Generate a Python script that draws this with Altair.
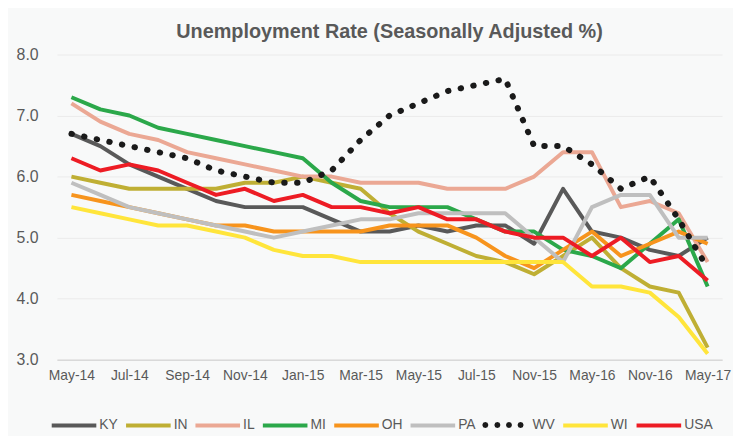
import math
import altair as alt
import pandas as pd

# Category axis (23 points, every other one labelled)
months = ["May-14", "Jun-14", "Jul-14", "Aug-14", "Sep-14", "Oct-14", "Nov-14", "Dec-14",
          "Jan-15", "Feb-15", "Mar-15", "Apr-15", "May-15", "Jun-15", "Jul-15", "Sep-15",
          "Nov-15", "Feb-16", "May-16", "Aug-16", "Nov-16", "Feb-17", "May-17"]
axis_labels = months[::2]

series = ["KY", "IN", "IL", "MI", "OH", "PA", "WV", "WI", "USA"]
colors = ["#595959", "#BFAF34", "#EBA894", "#2BA84A", "#F7941D", "#BFBFBF", "#1A1A1A", "#FFE53B", "#ED1C24"]

KY = [6.7, 6.5, 6.2, 6.0, 5.8, 5.6, 5.5, 5.5, 5.5, 5.3, 5.1, 5.1, 5.2, 5.1, 5.2, 5.2, 4.9, 5.8, 5.1, 5.0, 4.8, 4.7, 5.0]
IN = [6.0, 5.9, 5.8, 5.8, 5.8, 5.8, 5.9, 5.9, 6.0, 5.9, 5.8, 5.4, 5.1, 4.9, 4.7, 4.6, 4.4, 4.7, 5.0, 4.5, 4.2, 4.1, 3.2]
IL = [7.2, 6.9, 6.7, 6.6, 6.4, 6.3, 6.2, 6.1, 6.0, 6.0, 5.9, 5.9, 5.9, 5.8, 5.8, 5.8, 6.0, 6.4, 6.4, 5.5, 5.6, 5.4, 4.6]
MI = [7.3, 7.1, 7.0, 6.8, 6.7, 6.6, 6.5, 6.4, 6.3, 5.9, 5.6, 5.5, 5.5, 5.5, 5.3, 5.1, 5.1, 4.8, 4.7, 4.5, 4.9, 5.3, 4.2]
OH = [5.7, 5.6, 5.5, 5.4, 5.3, 5.2, 5.2, 5.1, 5.1, 5.1, 5.1, 5.2, 5.2, 5.2, 5.0, 4.7, 4.5, 4.8, 5.1, 4.7, 4.9, 5.1, 4.9]
PA = [5.9, 5.7, 5.5, 5.4, 5.3, 5.2, 5.1, 5.0, 5.1, 5.2, 5.3, 5.3, 5.4, 5.4, 5.4, 5.4, 5.0, 4.6, 5.5, 5.7, 5.7, 5.0, 5.0]
WV = [6.7, 6.6, 6.5, 6.4, 6.3, 6.1, 6.0, 5.9, 5.9, 6.1, 6.6, 7.0, 7.2, 7.4, 7.5, 7.6, 6.5, 6.5, 6.2, 5.8, 6.0, 5.3, 4.5]
WI = [5.5, 5.4, 5.3, 5.2, 5.2, 5.1, 5.0, 4.8, 4.7, 4.7, 4.6, 4.6, 4.6, 4.6, 4.6, 4.6, 4.6, 4.6, 4.2, 4.2, 4.1, 3.7, 3.1]
USA = [6.3, 6.1, 6.2, 6.1, 5.9, 5.7, 5.8, 5.6, 5.7, 5.5, 5.5, 5.4, 5.5, 5.3, 5.3, 5.1, 5.0, 5.0, 4.7, 5.0, 4.6, 4.7, 4.3]

values = {"KY": KY, "IN": IN, "IL": IL, "MI": MI, "OH": OH, "PA": PA, "WV": WV, "WI": WI, "USA": USA}

rows = []
for s in series:
    for m, v in zip(months, values[s]):
        rows.append({"month": m, "series": s, "rate": v})
df = pd.DataFrame(rows)

FONT = "Liberation Sans"
TEXT = "#595959"

# legend symbol shapes: a line for solid series, four small dots (octagons) for WV
LINE = "M-1,0L1,0"
r = 0.04
dots = ""
for cx in [-0.98, -0.44, 0.08, 0.6]:
    pts = [(cx + r * math.cos(k * math.pi / 4), r * math.sin(k * math.pi / 4)) for k in range(8)]
    dots += "M" + "L".join(f"{px:.4f},{py:.4f}" for px, py in pts) + "Z"
shapes = [dots if s == "WV" else LINE for s in series]

x = alt.X("month:O", sort=months,
          scale=alt.Scale(type="point", domain=months, padding=0.5),
          axis=alt.Axis(values=axis_labels, title=None, labelAngle=0, ticks=False, grid=False,
                        domainColor="#D9D9D9", domainWidth=1.5, labelFont=FONT, labelFontSize=14,
                        labelColor=TEXT, labelPadding=9))
y = alt.Y("rate:Q", scale=alt.Scale(domain=[3, 8], nice=False, zero=False),
          axis=alt.Axis(values=[3, 4, 5, 6, 7, 8], format=".1f", title=None, domain=False,
                        ticks=False, gridColor="#EBEBEB", gridWidth=1, labelFont=FONT,
                        labelFontSize=16, labelColor=TEXT, labelPadding=19))


def cscale():
    return alt.Scale(domain=series, range=colors)


solid = alt.Chart(df).transform_filter("datum.series != 'WV'").mark_line(
    strokeWidth=4, strokeJoin="round"
).encode(x=x, y=y, color=alt.Color("series:N", scale=cscale(), legend=None))

dotted = alt.Chart(df).transform_filter("datum.series == 'WV'").mark_line(
    strokeWidth=6, strokeDash=[0.5, 12.5], strokeCap="round"
).encode(x=x, y=y, color=alt.Color("series:N", scale=cscale(), legend=None))

legend_kw = dict(orient="none", legendX=-7.3, legendY=349, direction="horizontal", columns=9,
                 title=None, symbolSize=2025, symbolStrokeWidth=4, labelFont=FONT,
                 labelFontSize=14, labelColor=TEXT, labelOffset=1, columnPadding=0, padding=0)

# invisible point layer that only carries the legend (line / dot symbols)
legend_layer = alt.Chart(df).mark_point(
    filled=False, strokeWidth=4, opacity=0
).encode(
    x=x, y=y,
    color=alt.Color("series:N", scale=cscale(), legend=alt.Legend(**legend_kw)),
    shape=alt.Shape("series:N", scale=alt.Scale(domain=series, range=shapes),
                    legend=alt.Legend(**legend_kw)),
)

chart = alt.layer(solid, dotted, legend_layer).resolve_scale(
    color="independent", shape="independent"
).resolve_legend(
    color="independent", shape="independent"
).properties(
    width=671, height=308,
    title=alt.Title("Unemployment Rate (Seasonally Adjusted %)", font=FONT, fontSize=20,
                    fontWeight="bold", color=TEXT, anchor="middle", frame="group",
                    baseline="alphabetic", offset=19, dy=30),
    background="#F8F9F9",
    padding={"left": 49.4, "top": 45, "right": 11, "bottom": 75},
    autosize=alt.AutoSizeParams(type="none"),
).configure_view(stroke=None)

chart.save("out.html", embed_options={"renderer": "svg", "actions": False})
